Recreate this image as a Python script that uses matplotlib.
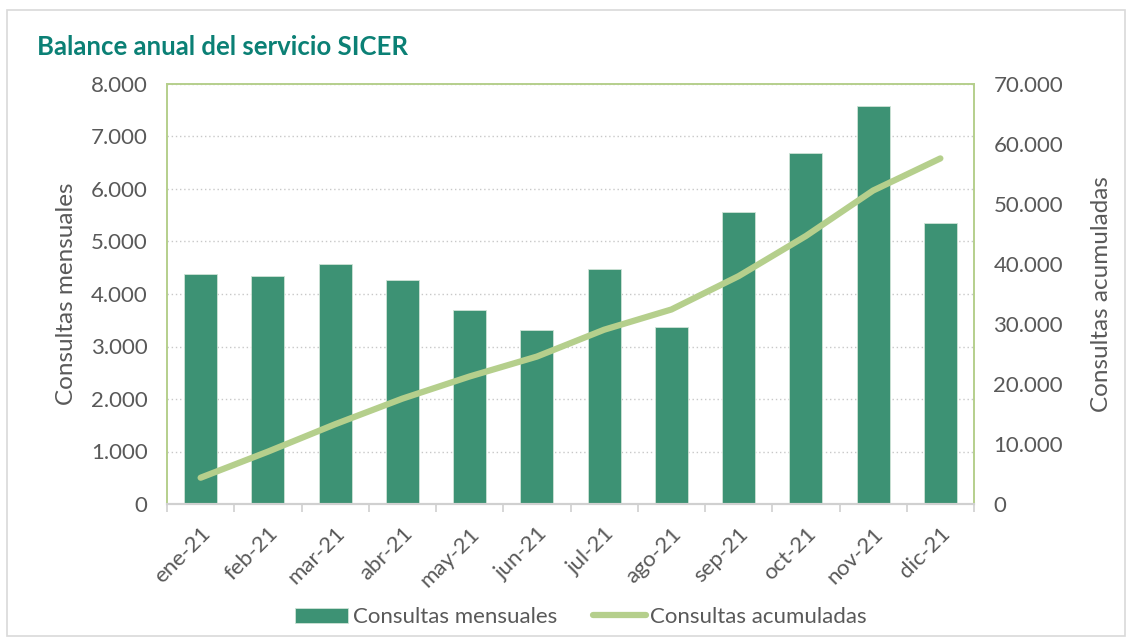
import matplotlib
matplotlib.use("Agg")
import matplotlib.pyplot as plt
import numpy as np
from matplotlib.patches import Rectangle
from matplotlib.ticker import FuncFormatter, MultipleLocator

months = ["ene-21", "feb-21", "mar-21", "abr-21", "may-21", "jun-21",
          "jul-21", "ago-21", "sep-21", "oct-21", "nov-21", "dic-21"]
mensuales = [4380, 4343, 4571, 4267, 3695, 3314, 4476, 3371, 5562, 6686, 7581, 5352]
acumuladas = [4380, 8723, 13294, 17561, 21256, 24570, 29046, 32417, 37979, 44665, 52246, 57598]

plt.rcParams['font.family'] = ['Lato', 'DejaVu Sans']
TXT = "#595959"
BAR = "#3d9274"
LINE = "#b5cf8c"

fig = plt.figure(figsize=(11.31, 6.39), dpi=100)
fig.patches.append(Rectangle((7/1131, 1-636/639), 1118/1131, 626/639, transform=fig.transFigure,
                             fill=False, edgecolor="#d9d9d9", linewidth=1.2))

ax = fig.add_axes([167/1131, 1-504/639, (974-167)/1131, (504-84)/639])
x = np.arange(len(months))
bars = ax.bar(x, mensuales, width=0.49, color=BAR, edgecolor="#cfe3d6", linewidth=0.6,
              label="Consultas mensuales", zorder=2)
ax.set_xlim(-0.5, len(months) - 0.5)
ax.set_ylim(0, 8000)
ax.yaxis.set_major_locator(MultipleLocator(1000))
fmt = FuncFormatter(lambda v, p: f"{int(v):,}".replace(",", "."))
ax.yaxis.set_major_formatter(fmt)
ax.grid(axis='y', linestyle=(0, (1, 2)), color="#c8c8c8", linewidth=1, zorder=0)
ax.set_axisbelow(True)

ax2 = ax.twinx()
ln, = ax2.plot(x, acumuladas, color=LINE, linewidth=4.5, solid_capstyle='round',
               label="Consultas acumuladas", zorder=3)
ax2.set_ylim(0, 70000)
ax2.yaxis.set_major_locator(MultipleLocator(10000))
ax2.yaxis.set_major_formatter(fmt)

for a in (ax, ax2):
    for s in ("left", "right", "top"):
        a.spines[s].set_color(LINE)
        a.spines[s].set_linewidth(1.2)
    a.spines["bottom"].set_color("#d0d0d0")
    a.spines["bottom"].set_linewidth(1.5)
    a.tick_params(axis='y', length=0, labelsize=16, labelcolor=TXT, pad=14)

ax.set_xticks(np.arange(-0.5, len(months), 1), minor=True)
ax.set_xticks(x)
ax.set_xticklabels(months, rotation=45, ha='right', rotation_mode='anchor',
                   fontsize=16, color=TXT)
ax.tick_params(axis='x', which='major', length=0, pad=14)
ax.tick_params(axis='x', which='minor', length=6, color="#d0d0d0", width=1.2)

ax.set_ylabel("Consultas mensuales", fontsize=17.5, color=TXT, labelpad=10)
ax2.set_ylabel("Consultas acumuladas", fontsize=17.5, color=TXT, labelpad=20)

fig.text(37/1131, 1-47/639, "Balance anual del servicio SICER", fontsize=18.5,
         fontweight='bold', color="#0b8075", va='center', ha='left')

fig.legend([bars, ln], ["Consultas mensuales", "Consultas acumuladas"],
           loc='center', bbox_to_anchor=(581/1131, 1-617/639), ncol=2, frameon=False,
           fontsize=16, labelcolor=TXT, handlelength=2.4, handleheight=0.65,
           handletextpad=0.2, columnspacing=1.6)

fig.savefig("out.png", dpi=100)
